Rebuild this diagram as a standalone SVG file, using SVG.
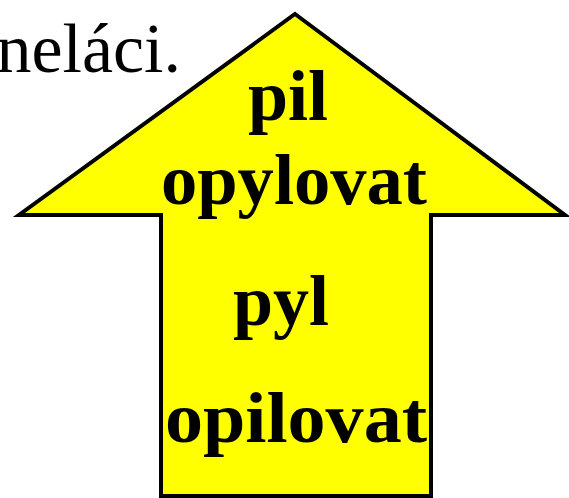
<svg xmlns="http://www.w3.org/2000/svg" width="569" height="498" viewBox="0 0 569 498">
<style>
.lbl{font-family:"Liberation Serif","Times New Roman",serif;font-weight:bold;font-size:72px;fill:#000;text-anchor:middle}
.plain{font-family:"Liberation Serif","Times New Roman",serif;font-size:70px;fill:#000;text-anchor:end}
</style>
<rect width="569" height="498" fill="#fff"/>
<text class="plain" x="181" y="72">neláci.</text>
<g id="arrow">
<polygon points="295,14 565,215 431,215 431,496 161,496 161,215 19,215" fill="#ffff00" stroke="#000" stroke-width="4" stroke-linejoin="miter"/>
<text class="lbl" x="288" y="120">pil</text>
<text class="lbl" x="294" y="204" textLength="266" lengthAdjust="spacingAndGlyphs">opylovat</text>
<text class="lbl" x="281" y="325">pyl</text>
<text class="lbl" x="296" y="442" textLength="262" lengthAdjust="spacingAndGlyphs">opilovat</text>
</g>
</svg>
